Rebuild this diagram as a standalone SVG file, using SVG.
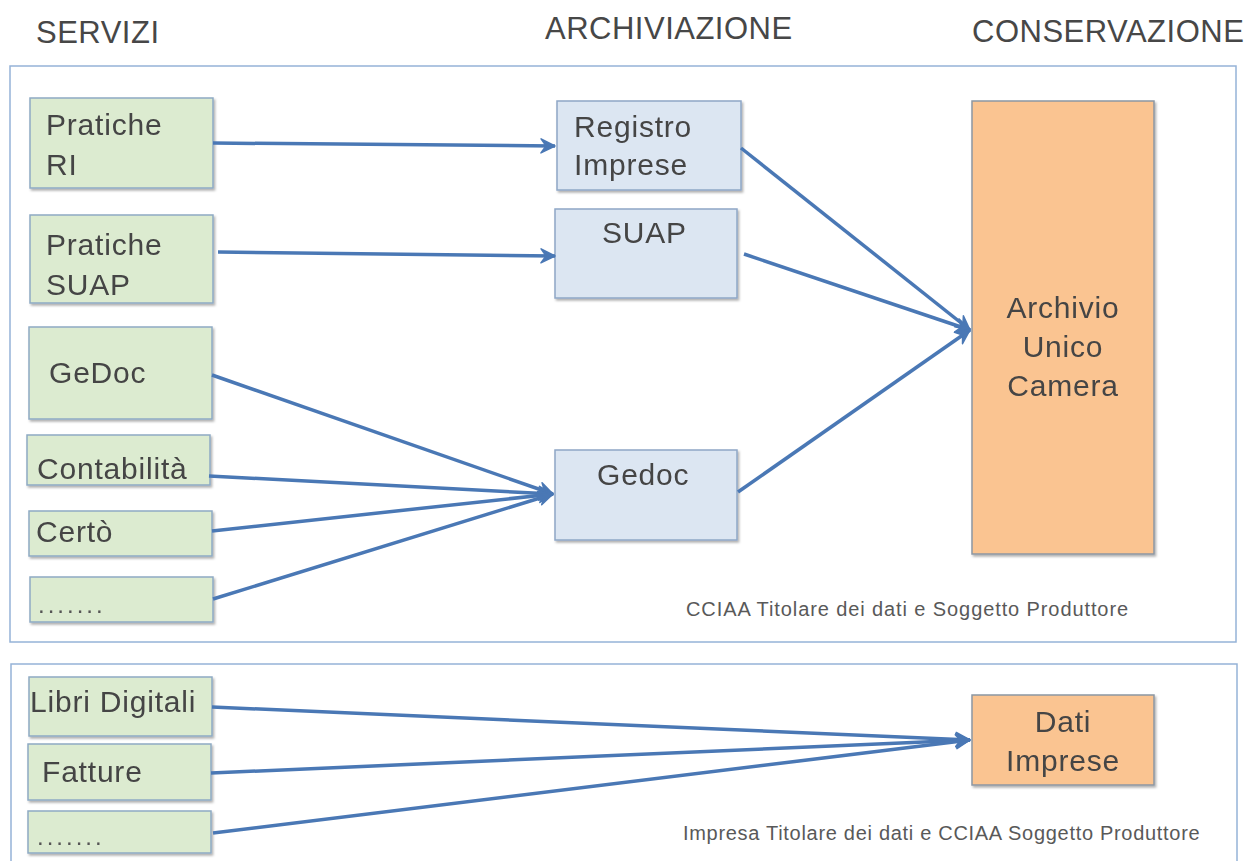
<svg xmlns="http://www.w3.org/2000/svg" width="1255" height="861" viewBox="0 0 1255 861">
<defs>
<style>
.frame{fill:none;stroke:#95b3d7;stroke-width:1.5}
.green{fill:#dcebd0;stroke:#8eaac4;stroke-width:1.5}
.blue{fill:#dce6f2;stroke:#8ea7c6;stroke-width:1.5}
.orange{fill:#fac491;stroke:#8c96a3;stroke-width:1.5}
.t{font-family:"Liberation Sans",Arial,sans-serif;font-size:30px;fill:#454545;letter-spacing:0.8px}
.h{font-family:"Liberation Sans",Arial,sans-serif;font-size:31px;fill:#474747;letter-spacing:0.5px}
.f{font-family:"Liberation Sans",Arial,sans-serif;font-size:20px;fill:#595959}
.dots{font-family:"Liberation Sans",Arial,sans-serif;font-size:24px;fill:#555555;letter-spacing:3px}
.c{fill:none;stroke:#4a78b5;stroke-width:3.5;marker-end:url(#arr)}
</style>
<marker id="arr" markerUnits="userSpaceOnUse" markerWidth="20" markerHeight="20" refX="15" refY="9" orient="auto">
<path d="M1,2 L15,9 L1,16 L6,9 z" fill="#4a78b5" stroke="#4a78b5" stroke-width="1.5" stroke-linejoin="round"/>
</marker>
<filter id="sh" x="-5%" y="-5%" width="115%" height="115%">
<feDropShadow dx="1.5" dy="2" stdDeviation="1.2" flood-color="#000000" flood-opacity="0.3"/>
</filter>
</defs>
<rect width="1255" height="861" fill="#ffffff"/>

<g id="headers">
<text class="h" x="36" y="43">SERVIZI</text>
<text class="h" x="545" y="39">ARCHIVIAZIONE</text>
<text class="h" x="972" y="42">CONSERVAZIONE</text>
</g>

<g id="frame-cciaa">
<rect class="frame" x="10" y="66" width="1226" height="576"/>
<text class="f" x="686" y="616" letter-spacing="0.9">CCIAA Titolare dei dati e Soggetto Produttore</text>
</g>
<g id="frame-impresa">
<rect class="frame" x="11" y="664" width="1226" height="220"/>
<text class="f" x="683" y="840" letter-spacing="0.7">Impresa Titolare dei dati e CCIAA Soggetto Produttore</text>
</g>

<g id="n-pratiche-ri" filter="url(#sh)">
<rect class="green" x="30" y="98" width="183" height="90"/>
<text class="t" x="46" y="135">Pratiche</text>
<text class="t" x="46" y="175">RI</text>
</g>
<g id="n-pratiche-suap" filter="url(#sh)">
<rect class="green" x="30" y="215" width="183" height="88"/>
<text class="t" x="46" y="255">Pratiche</text>
<text class="t" x="46" y="295">SUAP</text>
</g>
<g id="n-gedoc-src" filter="url(#sh)">
<rect class="green" x="29" y="327" width="183" height="92"/>
<text class="t" x="49" y="383">GeDoc</text>
</g>
<g id="n-contabilita" filter="url(#sh)">
<rect class="green" x="27" y="435" width="183" height="50"/>
<text class="t" x="37" y="479">Contabilità</text>
</g>
<g id="n-certo" filter="url(#sh)">
<rect class="green" x="29" y="511" width="183" height="45"/>
<text class="t" x="36" y="542">Certò</text>
</g>
<g id="n-altro1" filter="url(#sh)">
<rect class="green" x="30" y="577" width="183" height="45"/>
<text class="dots" x="38" y="613">.......</text>
</g>
<g id="n-libri" filter="url(#sh)">
<rect class="green" x="29" y="677" width="183" height="59"/>
<text class="t" x="30" y="712">Libri Digitali</text>
</g>
<g id="n-fatture" filter="url(#sh)">
<rect class="green" x="28" y="744" width="183" height="56"/>
<text class="t" x="42" y="782">Fatture</text>
</g>
<g id="n-altro2" filter="url(#sh)">
<rect class="green" x="28" y="811" width="183" height="42"/>
<text class="dots" x="37" y="845">.......</text>
</g>

<g id="n-registro" filter="url(#sh)">
<rect class="blue" x="557" y="101" width="184" height="89"/>
<text class="t" x="574" y="137">Registro</text>
<text class="t" x="574" y="175">Imprese</text>
</g>
<g id="n-suap" filter="url(#sh)">
<rect class="blue" x="555" y="209" width="182" height="89"/>
<text class="t" x="602" y="243">SUAP</text>
</g>
<g id="n-gedoc" filter="url(#sh)">
<rect class="blue" x="555" y="450" width="182" height="90"/>
<text class="t" x="597" y="485">Gedoc</text>
</g>

<g id="n-archivio" filter="url(#sh)">
<rect class="orange" x="972" y="101" width="182" height="453"/>
<text class="t" x="1063" y="318" text-anchor="middle">Archivio</text>
<text class="t" x="1063" y="357" text-anchor="middle">Unico</text>
<text class="t" x="1063" y="396" text-anchor="middle">Camera</text>
</g>
<g id="n-dati" filter="url(#sh)">
<rect class="orange" x="972" y="695" width="182" height="90"/>
<text class="t" x="1063" y="732" text-anchor="middle">Dati</text>
<text class="t" x="1063" y="771" text-anchor="middle">Imprese</text>
</g>

<g id="connectors">
<path class="c" d="M213,143 L555,146"/>
<path class="c" d="M218,252 L555,256"/>
<path class="c" d="M741,148 L970,330"/>
<path class="c" d="M744,254 L970,330"/>
<path class="c" d="M738,492 L970,330"/>
<path class="c" d="M212,375 L553,494"/>
<path class="c" d="M209,476 L553,494"/>
<path class="c" d="M212,531 L553,494"/>
<path class="c" d="M213,599 L553,494"/>
<path class="c" d="M212,707 L970,740"/>
<path class="c" d="M211,773 L970,740"/>
<path class="c" d="M213,833 L970,740"/>
</g>
</svg>
